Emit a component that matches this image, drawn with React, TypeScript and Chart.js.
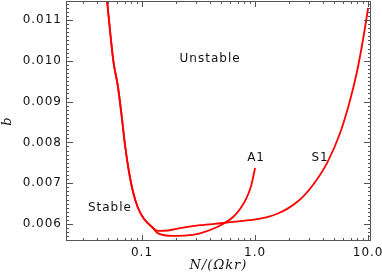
import { useEffect, useRef } from "react";
import { Chart, registerables } from "chart.js";

Chart.register(...registerables);

// Shared steep branch + curve S1
const S1_X = [0.049, 0.0526, 0.0559, 0.0613, 0.0659, 0.0707, 0.0767, 0.0833, 0.0922, 0.1042, 0.1226, 0.1385, 0.17, 0.217, 0.326, 0.543, 1.04, 1.28, 1.57, 1.92, 2.35, 2.66, 3.26, 4.34, 5.65, 6.93, 7.99, 9.03, 10.0];
const S1_Y = [0.01149, 0.010632, 0.009971, 0.009358, 0.008672, 0.007936, 0.007275, 0.006784, 0.006392, 0.006123, 0.005926, 0.00583, 0.00584, 0.0059, 0.00597, 0.00603, 0.00612, 0.00617, 0.00625, 0.00637, 0.00654, 0.00667, 0.00696, 0.0075, 0.00823, 0.00904, 0.00975, 0.010534, 0.011294];

// Curve A1
const A1_X = [0.049, 0.0526, 0.0559, 0.0613, 0.0659, 0.0707, 0.0767, 0.0833, 0.0922, 0.1042, 0.1226, 0.1385, 0.188, 0.25, 0.326, 0.452, 0.543, 0.639, 0.737, 0.8325, 0.922, 1.0];
const A1_Y = [0.01149, 0.010632, 0.009971, 0.009358, 0.008672, 0.007936, 0.007275, 0.006784, 0.006392, 0.006123, 0.005926, 0.00577, 0.00571, 0.00572, 0.00577, 0.005914, 0.00603, 0.006172, 0.006368, 0.006613, 0.006931, 0.007373];

const X_TICKS = [0.1, 1, 10];
const X_TICK_LABELS = ["0.1", "1.0", "10.0"];
const Y_TICKS = [0.006, 0.007, 0.008, 0.009, 0.01, 0.011];
const Y_TICK_LABELS = ["0.006", "0.007", "0.008", "0.009", "0.010", "0.011"];

const REGION_LABELS = ["Unstable", "Stable", "A1", "S1"];
const REGION_X = [0.4, 0.052, 1.02, 3.76];
const REGION_Y = [0.01004, 0.00639, 0.00762, 0.00762];

const X_MIN = 0.02126;
const X_MAX = 10.6;
const Y_MIN = 0.005583;
const Y_MAX = 0.011466;

const AXIS_COLOR = "#555";
const TEXT_COLOR = "#111";
const LINE_COLOR = "#ff0000";
const SANS = "'DejaVu Sans', sans-serif";
const SERIF = "'DejaVu Serif', serif";

const framePlugin = {
  id: "frame",
  beforeDraw(chart: any) {
    (chart.ctx as any).letterSpacing = "1px";
  },
  afterDatasetsDraw(chart: any) {
    const { ctx, chartArea } = chart;
    const { left, right, top, bottom } = chartArea;
    const xs = chart.scales.x;
    const ys = chart.scales.y;
    ctx.save();
    ctx.strokeStyle = AXIS_COLOR;
    ctx.lineWidth = 1;
    ctx.strokeRect(left + 0.5, top + 0.5, right - left - 1, bottom - top - 1);
    ctx.beginPath();
    for (let n = -2; n <= 1; n++) {
      for (let k = 1; k <= 9; k++) {
        const v = k * Math.pow(10, n);
        if (v < X_MIN || v > X_MAX) continue;
        const px = Math.round(xs.getPixelForValue(v)) + 0.5;
        const len = k === 1 ? 6 : 3;
        ctx.moveTo(px, bottom);
        ctx.lineTo(px, bottom - len);
        ctx.moveTo(px, top);
        ctx.lineTo(px, top + len);
      }
    }
    for (let i = 50; i <= 120; i++) {
      const v = i * 0.0001;
      if (v < Y_MIN || v > Y_MAX) continue;
      const py = Math.round(ys.getPixelForValue(v)) + 0.5;
      const len = i % 10 === 0 ? 7 : 3;
      ctx.moveTo(left, py);
      ctx.lineTo(left + len, py);
      ctx.moveTo(right, py);
      ctx.lineTo(right - len, py);
    }
    ctx.stroke();

    ctx.fillStyle = TEXT_COLOR;
    ctx.font = `12px ${SANS}`;
    ctx.textAlign = "center";
    ctx.textBaseline = "middle";
    for (let i = 0; i < REGION_LABELS.length; i++) {
      ctx.fillText(
        REGION_LABELS[i],
        xs.getPixelForValue(REGION_X[i]),
        ys.getPixelForValue(REGION_Y[i])
      );
    }
    ctx.restore();
  },
};

export default function App() {
  const ref = useRef<HTMLCanvasElement>(null);
  useEffect(() => {
    document.body.style.margin = "0";
    const canvas = ref.current!;
    const chart = new Chart(canvas, {
      type: "line",
      data: {
        datasets: [
          {
            label: "A1",
            data: A1_X.map((x, i) => ({ x, y: A1_Y[i] })),
            borderColor: LINE_COLOR,
            borderWidth: 1.8,
            pointRadius: 0,
            fill: false,
            cubicInterpolationMode: "monotone",
          },
          {
            label: "S1",
            data: S1_X.map((x, i) => ({ x, y: S1_Y[i] })),
            borderColor: LINE_COLOR,
            borderWidth: 1.8,
            pointRadius: 0,
            fill: false,
            cubicInterpolationMode: "monotone",
          },
        ],
      },
      options: {
        animation: false,
        responsive: false,
        devicePixelRatio: 1,
        layout: { padding: { top: 1, right: 11, left: 0, bottom: 0 } },
        plugins: {
          legend: { display: false },
          tooltip: { enabled: false },
        },
        scales: {
          x: {
            type: "logarithmic",
            min: X_MIN,
            max: X_MAX,
            grid: { display: false, drawTicks: false },
            border: { display: false },
            afterBuildTicks: (scale: any) => {
              scale.ticks = X_TICKS.map((v) => ({ value: v }));
            },
            afterFit: (scale: any) => {
              scale.height = 32;
              scale.paddingLeft = 0;
              scale.paddingRight = 0;
            },
            ticks: {
              autoSkip: false,
              maxRotation: 0,
              padding: 5,
              color: TEXT_COLOR,
              font: { family: SANS, size: 12 },
              callback: (_v: any, i: number) => X_TICK_LABELS[i],
            },
            title: {
              display: true,
              text: "N/(Ωkr)",
              color: TEXT_COLOR,
              padding: 0,
              font: { family: SERIF, size: 13, style: "italic" },
            },
          },
          y: {
            type: "linear",
            min: Y_MIN,
            max: Y_MAX,
            grid: { display: false, drawTicks: false },
            border: { display: false },
            afterBuildTicks: (scale: any) => {
              scale.ticks = Y_TICKS.map((v) => ({ value: v }));
            },
            afterFit: (scale: any) => {
              scale.width = 66;
              scale.paddingTop = 0;
              scale.paddingBottom = 0;
            },
            ticks: {
              autoSkip: false,
              padding: 4,
              color: TEXT_COLOR,
              font: { family: SANS, size: 12 },
              callback: (_v: any, i: number) => Y_TICK_LABELS[i],
            },
            title: {
              display: true,
              text: "b",
              color: TEXT_COLOR,
              padding: 0,
              font: { family: SERIF, size: 13, style: "italic" },
            },
          },
        },
      },
      plugins: [framePlugin],
    });
    return () => chart.destroy();
  }, []);
  return (
    <div style={{ position: "relative", width: 382, height: 273 }}>
      <canvas ref={ref} width={382} height={273} style={{ display: "block" }} />
    </div>
  );
}
